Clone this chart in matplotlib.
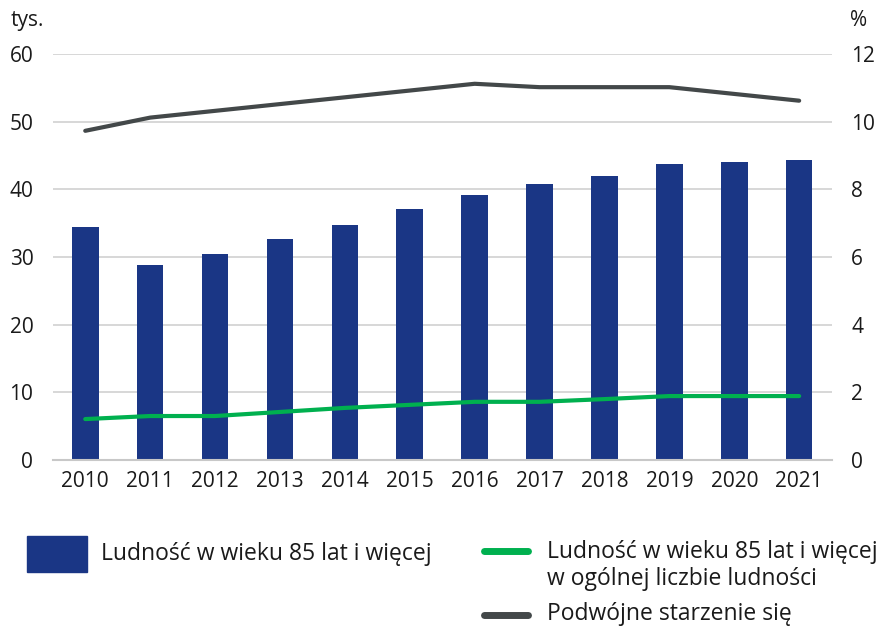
import matplotlib
matplotlib.use("Agg")
import matplotlib.pyplot as plt
from matplotlib.lines import Line2D
from matplotlib.patches import Rectangle

years = ["2010", "2011", "2012", "2013", "2014", "2015",
         "2016", "2017", "2018", "2019", "2020", "2021"]
pop85 = [34.4, 28.8, 30.4, 32.6, 34.7, 37.1, 39.1, 40.8, 41.9, 43.7, 44.0, 44.4]
share85 = [1.21, 1.30, 1.30, 1.42, 1.54, 1.63, 1.72, 1.72, 1.80, 1.89, 1.89, 1.89]
double_aging = [9.73, 10.12, 10.32, 10.52, 10.72, 10.92, 11.12, 11.02, 11.02, 11.02, 10.82, 10.62]

bar_color = "#1a3685"
green = "#00b04f"
dark = "#434849"
grid_color = "#d4d4d4"

plt.rcParams["font.family"] = ["Open Sans", "DejaVu Sans"]

fig = plt.figure(figsize=(8.8, 6.28), dpi=100)
ax = fig.add_axes([0.060, 0.2675, 0.885, 0.6465])
ax2 = ax.twinx()

x = list(range(len(years)))
ax.bar(x, pop85, width=0.41, color=bar_color, zorder=2)
ax.set_ylim(0, 60)
ax.set_yticks(range(0, 61, 10))
ax.set_xlim(-0.5, len(years) - 0.5)
ax.set_xticks(x)
ax.set_xticklabels(years)
ax.yaxis.grid(True, color=grid_color, linewidth=1.3, zorder=0)
ax.set_axisbelow(True)

ax2.plot(x, share85, color=green, linewidth=3, solid_capstyle="round", zorder=3)
ax2.plot(x, double_aging, color=dark, linewidth=3, solid_capstyle="round", zorder=3)
ax2.set_ylim(0, 12)
ax2.set_yticks(range(0, 13, 2))

for a in (ax, ax2):
    for s in a.spines.values():
        s.set_visible(False)
    a.tick_params(length=0, labelsize=15, colors="#1a1a1a")
ax.tick_params(axis="x", pad=8)
ax.tick_params(axis="y", pad=14)
ax2.tick_params(axis="y", pad=14)
ax.spines["bottom"].set_visible(True)
ax.spines["bottom"].set_color("#c8c8c8")
ax.spines["bottom"].set_linewidth(1.5)

fig.text(0.012, 0.967, "tys.", fontsize=15, ha="left", va="center", color="#1a1a1a")
fig.text(0.985, 0.967, "%", fontsize=15, ha="right", va="center", color="#1a1a1a")

# legend
W, H = 880, 628
leg_font = dict(fontsize=16.5, color="#1a1a1a", va="center", ha="left")
fig.add_artist(Rectangle((27 / W, 1 - 572 / H), 60 / W, 36 / H,
                         transform=fig.transFigure, color=bar_color))
fig.text(101 / W, 1 - 554 / H, "Ludność w wieku 85 lat i więcej", **leg_font)
fig.add_artist(Line2D([483.5 / W, 527.5 / W], [1 - 551 / H, 1 - 551 / H],
                      transform=fig.transFigure, color=green, linewidth=5,
                      solid_capstyle="round"))
fig.text(547 / W, 1 - 565.5 / H, "Ludność w wieku 85 lat i więcej\nw ogólnej liczbie ludności",
         linespacing=1.15, **leg_font)
fig.add_artist(Line2D([483.5 / W, 527.5 / W], [1 - 615 / H, 1 - 615 / H],
                      transform=fig.transFigure, color=dark, linewidth=5,
                      solid_capstyle="round"))
fig.text(547 / W, 1 - 614 / H, "Podwójne starzenie się", **leg_font)

fig.savefig("out.png", dpi=100)
